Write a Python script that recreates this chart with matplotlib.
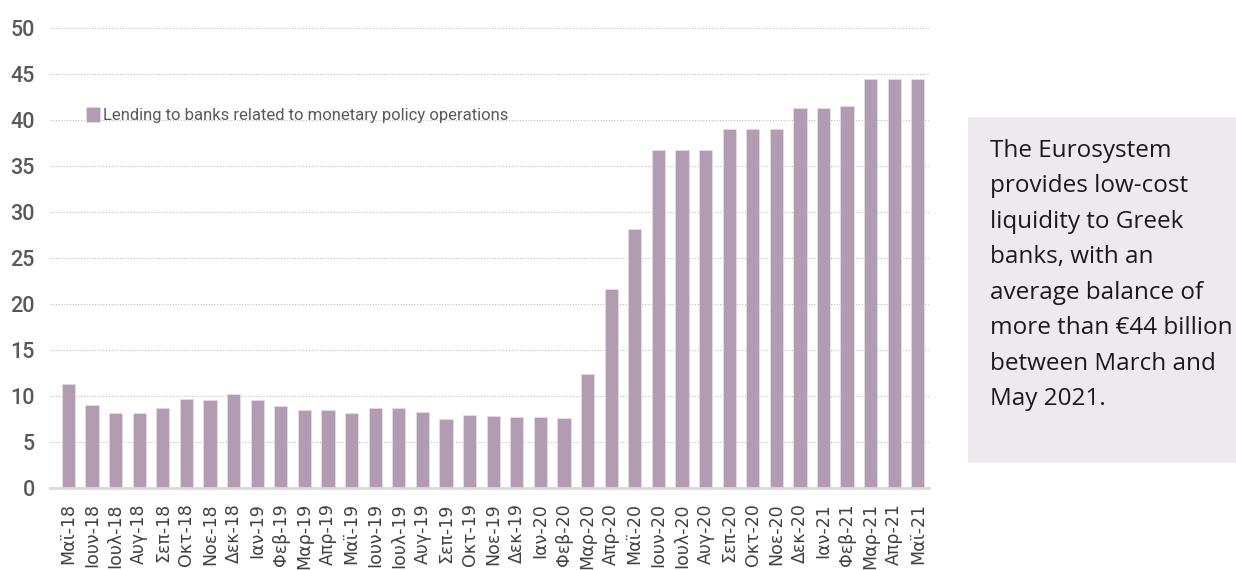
import matplotlib
matplotlib.use("Agg")
import matplotlib.pyplot as plt
from matplotlib.patches import Rectangle

# monthly data, bn euro
months = ["Μαϊ-18", "Ιουν-18", "Ιουλ-18", "Αυγ-18", "Σεπ-18", "Οκτ-18", "Νοε-18", "Δεκ-18",
          "Ιαν-19", "Φεβ-19", "Μαρ-19", "Απρ-19", "Μαϊ-19", "Ιουν-19", "Ιουλ-19", "Αυγ-19",
          "Σεπ-19", "Οκτ-19", "Νοε-19", "Δεκ-19",
          "Ιαν-20", "Φεβ-20", "Μαρ-20", "Απρ-20", "Μαϊ-20", "Ιουν-20", "Ιουλ-20", "Αυγ-20",
          "Σεπ-20", "Οκτ-20", "Νοε-20", "Δεκ-20",
          "Ιαν-21", "Φεβ-21", "Μαρ-21", "Απρ-21", "Μαϊ-21"]
lending = [11.3, 9.05, 8.2, 8.2, 8.7, 9.7, 9.6, 10.2,
           9.6, 8.95, 8.45, 8.5, 8.1, 8.65, 8.7, 8.25,
           7.55, 7.9, 7.8, 7.75,
           7.7, 7.65, 12.4, 21.6, 28.15, 36.8, 36.8, 36.8,
           39.0, 39.1, 39.0, 41.3,
           41.3, 41.5, 44.5, 44.5, 44.5]
series_label = "Lending to banks related to monetary policy operations"
note = ("The Eurosystem\nprovides low-cost\nliquidity to Greek\nbanks, with an\n"
        "average balance of\nmore than €44 billion\nbetween March and\nMay 2021.")

bar_color = "#B29CB1"
grey = "#595959"

fig = plt.figure(figsize=(12.36, 5.7), dpi=100)
ax = fig.add_axes([0.0405, 0.144, 0.7111, 0.8063])

x = range(len(months))
bars = ax.bar(x, lending, width=0.56, color=bar_color, edgecolor="#E8DFE8", linewidth=0.5,
              label=series_label, zorder=2)

ax.set_ylim(0, 50)
ax.set_xlim(-0.78, 36.47)
ax.set_yticks(range(0, 51, 5))
ax.set_xticks(list(x))
# labels run off the bottom edge slightly, same as the original chart
ax.set_xticklabels(months, rotation=90, fontsize=12.5, color="#404040", family="DejaVu Sans")
for lab in ax.get_yticklabels():
    lab.set_family("Roboto")
    lab.set_fontsize(15.5)
    lab.set_color(grey)
    lab.set_fontweight("medium")
ax.tick_params(axis="y", length=0, pad=11)
ax.tick_params(axis="x", length=0, pad=11)

ax.grid(axis="y", linestyle=(0, (1, 1.5)), color="#BFBFBF", linewidth=0.8, zorder=0)
for s in ["top", "right", "left"]:
    ax.spines[s].set_visible(False)
ax.spines["bottom"].set_color("#D9D9D9")
ax.spines["bottom"].set_linewidth(2)

leg = ax.legend(loc="center left", bbox_to_anchor=(0.0696, 0.798), bbox_transform=fig.transFigure,
                frameon=False, handlelength=0.85, handleheight=1.0, handletextpad=0.15,
                borderpad=0, borderaxespad=0, prop={"family": "Roboto", "size": 12})
for t in leg.get_texts():
    t.set_color(grey)

# side note box
fig.patches.append(Rectangle((0.783, 0.1877), 0.217, 0.607, transform=fig.transFigure,
                             facecolor="#EDE9EE", edgecolor="none", zorder=0))
fig.text(0.801, 0.757, note, ha="left", va="top", fontsize=17.5, color="#1a1a1a",
         family="Open Sans", linespacing=1.64)

fig.savefig("out.png", dpi=100)
